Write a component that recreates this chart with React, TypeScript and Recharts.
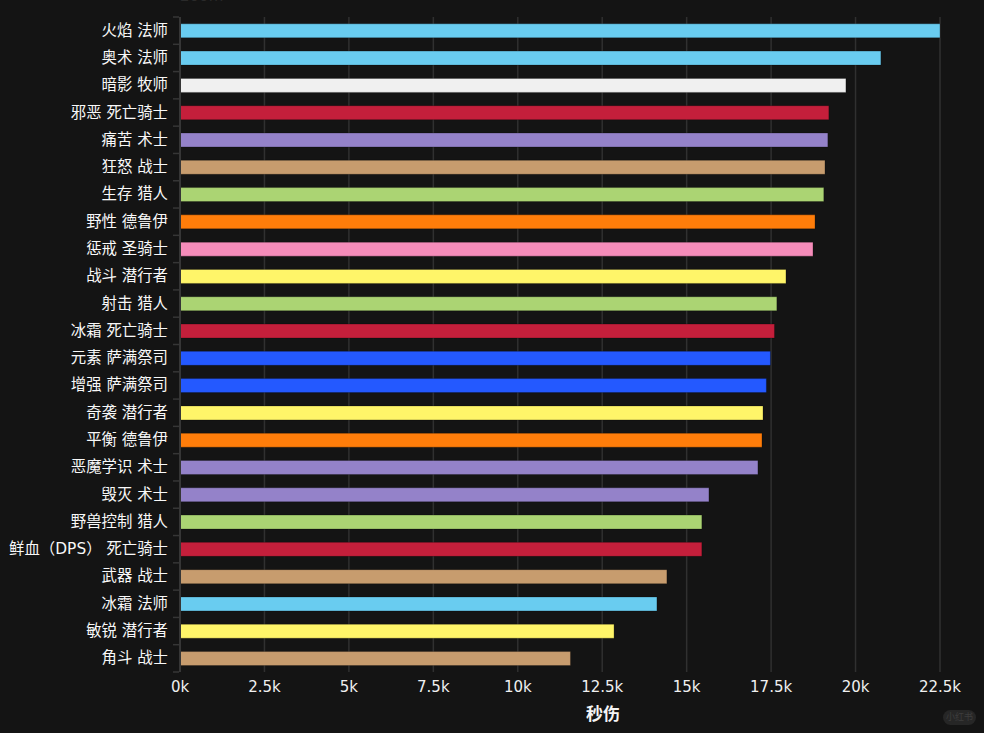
import React from "react";
import { BarChart, Bar, XAxis, YAxis, CartesianGrid, Cell, Label } from "recharts";

const MAGE = "#69CCF0";
const PRIEST = "#F0F0F0";
const DK = "#C41F3B";
const WARLOCK = "#9482C9";
const WARRIOR = "#C79C6E";
const HUNTER = "#ABD473";
const DRUID = "#FF7D0A";
const PALADIN = "#F58CBA";
const ROGUE = "#FFF569";
const SHAMAN = "#2459FF";

const specs = [
  "火焰 法师", "奥术 法师", "暗影 牧师", "邪恶 死亡骑士", "痛苦 术士", "狂怒 战士",
  "生存 猎人", "野性 德鲁伊", "惩戒 圣骑士", "战斗 潜行者", "射击 猎人", "冰霜 死亡骑士",
  "元素 萨满祭司", "增强 萨满祭司", "奇袭 潜行者", "平衡 德鲁伊", "恶魔学识 术士", "毁灭 术士",
  "野兽控制 猎人", "鲜血（DPS） 死亡骑士", "武器 战士", "冰霜 法师", "敏锐 潜行者", "角斗 战士",
];

const dps = [
  22500, 20750, 19715, 19210, 19180, 19095,
  19060, 18800, 18740, 17940, 17670, 17600,
  17480, 17360, 17260, 17230, 17110, 15660,
  15450, 15450, 14415, 14120, 12850, 11560,
];

const colors = [
  MAGE, MAGE, PRIEST, DK, WARLOCK, WARRIOR,
  HUNTER, DRUID, PALADIN, ROGUE, HUNTER, DK,
  SHAMAN, SHAMAN, ROGUE, DRUID, WARLOCK, WARLOCK,
  HUNTER, DK, WARRIOR, MAGE, ROGUE, WARRIOR,
];

const xTicks = [0, 2500, 5000, 7500, 10000, 12500, 15000, 17500, 20000, 22500];

const data = specs.map((spec, i) => ({ spec, dps: dps[i] }));

const font = '"DejaVu Sans", "Noto Sans CJK SC", sans-serif';
const band = 655 / specs.length;

// ticks sit on the band edges, labels in the band middle
function SpecTick({ x, y, payload, index }: any) {
  return (
    <g>
      <line x1={x + 9} x2={x + 15} y1={y - band / 2} y2={y - band / 2} stroke="#363636" strokeWidth={1.5} />
      {index === specs.length - 1 && (
        <line x1={x + 9} x2={x + 15} y1={y + band / 2} y2={y + band / 2} stroke="#363636" strokeWidth={1.5} />
      )}
      <text x={x + 4} y={y} dy={5} textAnchor="end" fontSize={15.4} fill="#f8f8f8">
        {payload.value}
      </text>
    </g>
  );
}

export default function App() {
  return (
    <div style={{ position: "fixed", left: 0, top: 0, width: 984, height: 733, background: "#141414", overflow: "hidden" }}>
      <div style={{ position: "absolute", left: 180, top: -12, fontFamily: font, fontSize: 15, color: "#2a2a2a", lineHeight: "16px" }}>
        200m
      </div>
      <BarChart
        width={984}
        height={733}
        data={data}
        layout="vertical"
        barCategoryGap="25%"
        margin={{ top: 17, right: 44, bottom: 0, left: 0 }}
        style={{ fontFamily: font, position: "absolute", left: 0, top: 0 }}
      >
        <CartesianGrid horizontal={false} stroke="#303030" strokeWidth={1.5} />
        <XAxis
          type="number"
          domain={[0, 22500]}
          ticks={xTicks}
          tickFormatter={(v: number) => `${v / 1000}k`}
          axisLine={false}
          tickLine={false}
          tick={{ fontSize: 15, fill: "#f0f0f0" }}
          height={61}
          tickMargin={3}
          interval={0}
        >
          <Label value="秒伤" position="insideBottom" offset={13} dx={43} fill="#f5f5f5" fontSize={17} fontWeight={700} />
        </XAxis>
        <YAxis
          type="category"
          dataKey="spec"
          width={180}
          interval={0}
          axisLine={{ stroke: "#363636", strokeWidth: 2 }}
          tickLine={false}
          tick={<SpecTick />}
          tickMargin={10}
        />
        <Bar dataKey="dps" isAnimationActive={false} stroke="rgba(0,0,0,0.25)" strokeWidth={1}>
          {data.map((d, i) => (
            <Cell key={d.spec} fill={colors[i]} />
          ))}
        </Bar>
      </BarChart>
      <div style={{ position: "absolute", left: 943, top: 710, width: 33, height: 15, borderRadius: 8, background: "#262626", color: "#3d3d3d", fontFamily: font, fontSize: 9, lineHeight: "15px", textAlign: "center" }}>
        小红书
      </div>
    </div>
  );
}
